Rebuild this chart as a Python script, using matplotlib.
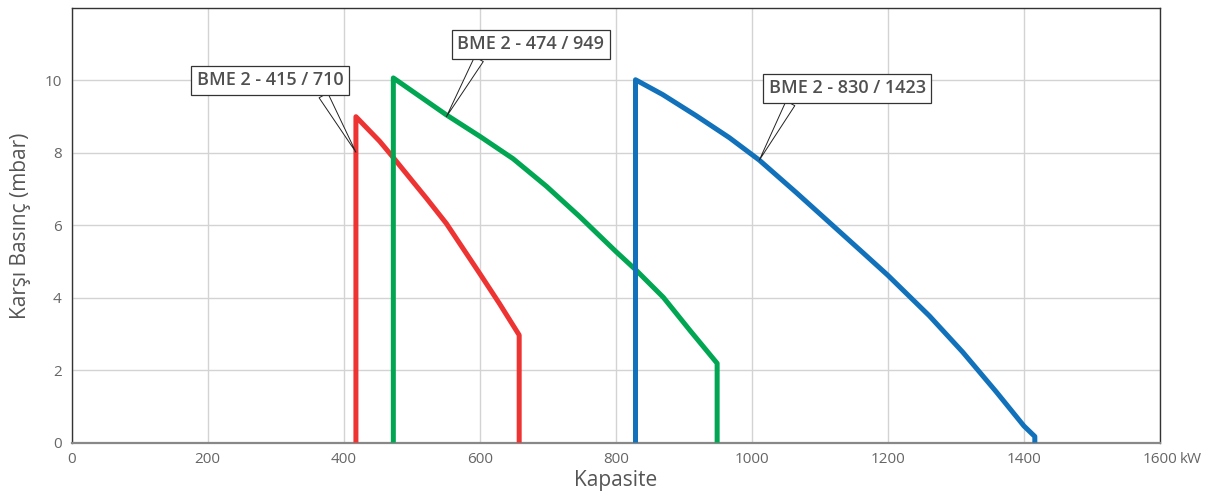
import matplotlib
matplotlib.use("Agg")
import matplotlib.pyplot as plt

# ===================== 数据 =====================
red_x = [418, 418, 453, 473, 502, 522, 551, 600, 629, 658, 658]
red_y = [0, 9.0, 8.32, 7.87, 7.2, 6.74, 6.05, 4.67, 3.84, 2.97, 0]

green_x = [473, 473, 551, 600, 649, 698, 747, 800, 830, 870, 909, 949, 949]
green_y = [0, 10.07, 9.05, 8.46, 7.84, 7.08, 6.24, 5.28, 4.76, 4.01, 3.1, 2.19, 0]

blue_x = [829, 829, 869, 918, 967, 1011, 1065, 1114, 1163, 1200, 1261, 1310,
          1359, 1400, 1416, 1416]
blue_y = [0, 10.02, 9.61, 9.03, 8.42, 7.8, 6.91, 6.08, 5.25, 4.62, 3.5, 2.5,
          1.41, 0.46, 0.17, 0]

labels = ["BME 2 - 415 / 710", "BME 2 - 474 / 949", "BME 2 - 830 / 1423"]
tip_x = [418, 551, 1011]
tip_y = [8.02, 9.0, 7.8]
box_x = [292, 675, 1140]
box_y = [10.0, 11.0, 9.78]
wedge_rel = [0.84, 0.17, 0.16]

x_ticks = [0, 200, 400, 600, 800, 1000, 1200, 1400, 1600]
y_ticks = [0, 2, 4, 6, 8, 10]

colors = ["#EE3333", "#00A651", "#1171BA"]

# ===================== 绘图 =====================
plt.rcParams["font.family"] = ["Open Sans", "DejaVu Sans"]

fig = plt.figure(figsize=(12.13, 5.03), dpi=100)
ax = fig.add_axes([0.059, 0.12, 0.8973, 0.864])

for xs, ys, c in zip([red_x, green_x, blue_x], [red_y, green_y, blue_y], colors):
    ax.plot(xs, ys, color=c, linewidth=3.6, solid_joinstyle="round",
            solid_capstyle="butt", zorder=3)

for lab, tx, ty, bx, by, rel in zip(labels, tip_x, tip_y, box_x, box_y, wedge_rel):
    ax.annotate(lab, xy=(tx, ty), xytext=(bx, by), ha="center", va="center",
                fontsize=13, fontweight="semibold", color="#505050",
                bbox=dict(boxstyle="square,pad=0.3", fc="white", ec="#333333", lw=0.9),
                arrowprops=dict(arrowstyle="wedge,tail_width=0.55,shrink_factor=0.5",
                                fc="white", ec="#222222", lw=0.7, relpos=(rel, 0),
                                shrinkA=0, shrinkB=0),
                zorder=5)

ax.set_xlim(0, 1600)
ax.set_ylim(0, 12)
ax.set_xticks(x_ticks)
ax.set_yticks(y_ticks)
ax.tick_params(length=0, labelsize=11, labelcolor="#666666", pad=7)
ax.grid(True, color="#d3d3d3", linewidth=1)
ax.set_axisbelow(True)

for side in ["left", "top", "right"]:
    ax.spines[side].set_color("#333333")
    ax.spines[side].set_linewidth(1)
ax.spines["bottom"].set_color("#888888")
ax.spines["bottom"].set_linewidth(1.6)

ax.annotate("kW", xy=(1, 0), xycoords="axes fraction", xytext=(14, -7),
            textcoords="offset points", ha="left", va="top",
            fontsize=11, color="#666666")

ax.set_xlabel("Kapasite", fontsize=15, color="#555555", labelpad=2)
ax.set_ylabel("Karşı Basınç (mbar)", fontsize=15, color="#555555", labelpad=10)

fig.savefig("out.png", dpi=100)
